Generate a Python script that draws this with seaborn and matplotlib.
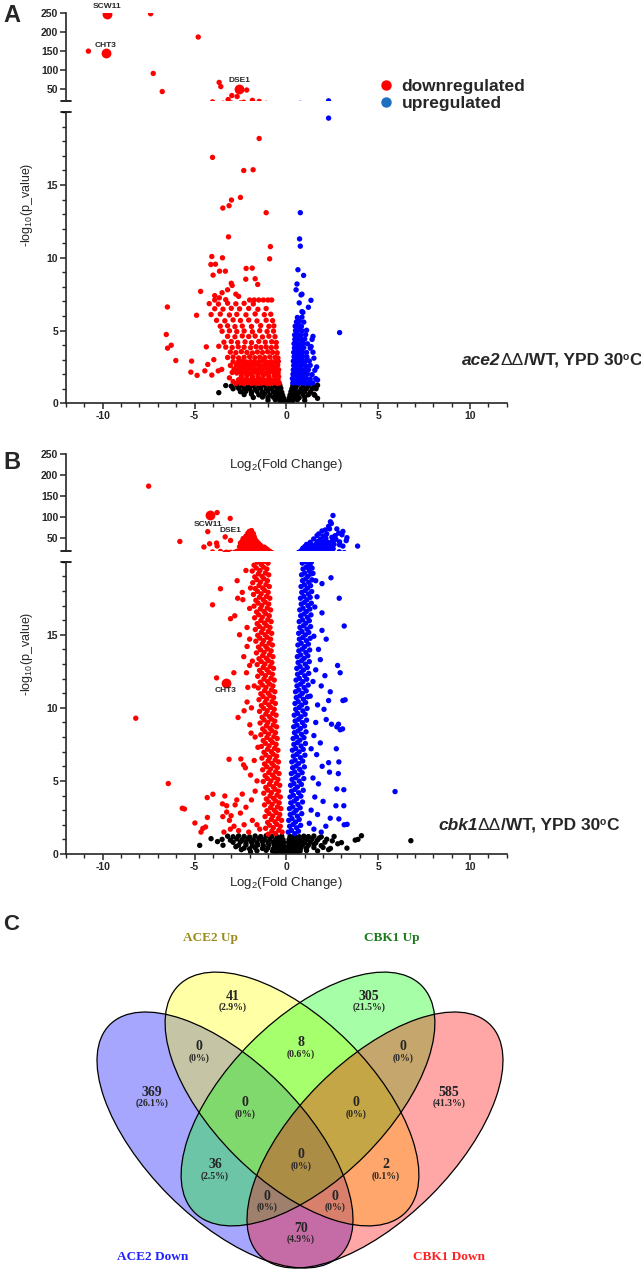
import numpy as np
import pandas as pd
import matplotlib
matplotlib.use("Agg")
import matplotlib.pyplot as plt
from matplotlib.patches import Ellipse
from matplotlib.lines import Line2D
from matplotlib.ticker import MultipleLocator
import seaborn as sns

# -----------------------------
# 1. Data
# -----------------------------
# Panel A : ace2 / WT   (log2 fold change, -log10 p)
A_down_top = [(-10.78, 150), (-7.39, 248), (-4.80, 187), (-7.25, 91.5), (-6.76, 44), (-3.66, 68),
              (-3.57, 57), (-2.16, 48), (-2.97, 33.5), (-2.68, 31), (-3.17, 23), (-1.85, 21)]
A_down_sparse = [(-1.48, 18.2), (-4.02, 16.9), (-2.32, 16.0), (-1.81, 16.05), (-2.5, 14.15), (-2.99, 13.97),
                 (-3.12, 13.58), (-3.46, 13.42), (-1.10, 13.1), (-3.15, 11.44), (-0.87, 10.77), (-0.91, 9.93),
                 (-4.06, 10.09), (-3.48, 10.0), (-4.11, 9.54), (-3.86, 9.56), (-3.99, 8.81), (-3.64, 9.08),
                 (-3.32, 9.08), (-2.19, 9.27), (-1.86, 9.29), (-2.21, 8.53), (-1.70, 8.56), (-1.56, 8.17),
                 (-4.67, 7.69), (-4.89, 6.05), (-6.48, 6.62), (-6.54, 4.73), (-6.47, 3.79), (-6.27, 3.99),
                 (-6.02, 2.94), (-5.16, 2.9), (-5.20, 2.14), (-4.86, 1.92), (-4.36, 3.88), (-4.28, 2.67),
                 (-4.44, 2.23), (-3.95, 3.0), (-4.06, 1.94), (-3.68, 3.92), (-3.71, 2.23), (-3.52, 2.33)]
A_down_core = [
    (-2.75, 1.36), (-2.5, 1.40), (-2.3, 1.35), (-2.1, 1.42), (-1.9, 1.37), (-1.7, 1.39), (-1.5, 1.36),
    (-1.3, 1.41), (-1.1, 1.38), (-0.9, 1.35), (-0.7, 1.40), (-0.5, 1.37), (-0.38, 1.39),
    (-2.6, 1.62), (-2.4, 1.60), (-2.2, 1.65), (-2.0, 1.58), (-1.8, 1.63), (-1.6, 1.61), (-1.4, 1.66),
    (-1.2, 1.59), (-1.0, 1.64), (-0.8, 1.60), (-0.6, 1.62), (-0.45, 1.58),
    (-2.45, 1.86), (-2.15, 1.90), (-1.85, 1.84), (-1.55, 1.88), (-1.25, 1.92), (-0.95, 1.85),
    (-0.65, 1.89), (-0.42, 1.83), (-2.9, 1.50), (-3.1, 1.75),
    (-2.95, 2.12), (-2.7, 2.08), (-2.48, 2.14), (-2.25, 2.1), (-2.02, 2.06), (-1.8, 2.13), (-1.58, 2.09),
    (-1.35, 2.11), (-1.12, 2.07), (-0.9, 2.14), (-0.68, 2.1), (-0.45, 2.08),
    (-2.85, 2.36), (-2.6, 2.33), (-2.38, 2.38), (-2.15, 2.34), (-1.92, 2.37), (-1.7, 2.32), (-1.48, 2.36),
    (-1.25, 2.39), (-1.02, 2.33), (-0.8, 2.35), (-0.58, 2.37), (-0.42, 2.31),
    (-3.05, 2.6), (-2.72, 2.62), (-2.5, 2.58), (-2.28, 2.63), (-2.05, 2.59), (-1.82, 2.61), (-1.6, 2.64),
    (-1.38, 2.57), (-1.15, 2.6), (-0.92, 2.63), (-0.7, 2.58), (-0.47, 2.62),
    (-2.9, 2.86), (-2.62, 2.83), (-2.4, 2.88), (-2.18, 2.84), (-1.95, 2.87), (-1.72, 2.82), (-1.5, 2.85),
    (-1.28, 2.89), (-1.05, 2.83), (-0.82, 2.86), (-0.6, 2.84), (-0.44, 2.88),
    (-3.2, 3.15), (-2.9, 3.18), (-2.6, 3.12), (-2.3, 3.16), (-2.0, 3.2), (-1.72, 3.13), (-1.45, 3.17),
    (-1.18, 3.14), (-0.9, 3.19), (-0.62, 3.15), (-0.46, 3.12),
    (-3.05, 3.52), (-2.75, 3.48), (-2.45, 3.55), (-2.15, 3.5), (-1.85, 3.46), (-1.58, 3.53), (-1.3, 3.49),
    (-1.02, 3.54), (-0.75, 3.5), (-0.5, 3.47),
    (-3.3, 3.86), (-2.95, 3.83), (-2.62, 3.88), (-2.3, 3.85), (-1.95, 3.82), (-1.65, 3.89), (-1.38, 3.84),
    (-1.1, 3.87), (-0.82, 3.83), (-0.55, 3.86),
    (-3.4, 4.2), (-3.0, 4.24), (-2.65, 4.18), (-2.25, 4.22), (-1.9, 4.17), (-1.5, 4.25), (-1.15, 4.2),
    (-0.8, 4.23), (-0.55, 4.18),
    (-3.2, 4.6), (-2.8, 4.57), (-2.4, 4.63), (-2.05, 4.59), (-1.7, 4.62), (-1.3, 4.56), (-0.95, 4.61),
    (-0.62, 4.58),
    (-3.5, 4.95), (-3.1, 4.98), (-2.7, 4.93), (-2.3, 4.97), (-1.85, 4.92), (-1.45, 4.99), (-1.05, 4.94),
    (-0.7, 4.96),
    (-3.6, 5.3), (-3.2, 5.33), (-2.8, 5.27), (-2.4, 5.31), (-1.9, 5.28), (-1.4, 5.34), (-0.95, 5.29),
    (-0.68, 5.32),
    (-3.8, 5.7), (-3.35, 5.67), (-2.9, 5.73), (-2.5, 5.69), (-2.05, 5.72), (-1.6, 5.66), (-1.1, 5.71),
    (-0.75, 5.68),
    (-4.1, 6.1), (-3.6, 6.13), (-3.1, 6.07), (-2.7, 6.11), (-2.2, 6.08), (-1.7, 6.14), (-1.2, 6.09),
    (-0.85, 6.12),
    (-3.9, 6.5), (-3.45, 6.47), (-3.0, 6.53), (-2.55, 6.49), (-2.05, 6.52), (-1.55, 6.46), (-1.1, 6.51),
    (-4.2, 6.85), (-3.7, 6.82), (-3.2, 6.88), (-2.75, 6.84), (-2.3, 6.87), (-1.8, 6.83),
    (-3.9, 7.1), (-3.3, 7.12), (-2.0, 7.1), (-1.75, 7.1), (-1.5, 7.1), (-1.25, 7.1), (-1.0, 7.1), (-0.8, 7.1),
    (-3.9, 7.4), (-3.5, 7.6), (-3.2, 7.8), (-2.95, 8.1), (-2.75, 7.5), (-3.65, 7.25), (-3.0, 8.25), (-2.6, 7.35)]
A_up_core = [
    (0.35, 1.4), (0.5, 1.43), (0.65, 1.38), (0.8, 1.42), (0.95, 1.39), (1.1, 1.41), (1.25, 1.37), (1.45, 1.4),
    (0.33, 1.7), (0.48, 1.73), (0.62, 1.68), (0.78, 1.72), (0.92, 1.69), (1.08, 1.71), (1.3, 1.67), (1.6, 1.7),
    (0.36, 2.0), (0.5, 2.03), (0.66, 1.98), (0.8, 2.02), (0.96, 1.99), (1.15, 2.01), (1.4, 1.97),
    (0.38, 2.3), (0.52, 2.33), (0.68, 2.28), (0.84, 2.32), (1.0, 2.29), (1.2, 2.31), (1.55, 2.27),
    (0.4, 2.6), (0.55, 2.63), (0.7, 2.58), (0.86, 2.62), (1.05, 2.59), (1.3, 2.61),
    (0.38, 2.9), (0.53, 2.93), (0.68, 2.88), (0.84, 2.92), (1.02, 2.89), (1.25, 2.91),
    (0.42, 3.2), (0.57, 3.23), (0.72, 3.18), (0.9, 3.22), (1.12, 3.19),
    (0.4, 3.5), (0.55, 3.53), (0.7, 3.48), (0.88, 3.52), (1.1, 3.49), (1.45, 3.51),
    (0.44, 3.8), (0.6, 3.83), (0.76, 3.78), (0.95, 3.82), (1.3, 3.79),
    (0.42, 4.1), (0.58, 4.13), (0.74, 4.08), (0.92, 4.12), (1.15, 4.09),
    (0.46, 4.4), (0.62, 4.43), (0.8, 4.38), (1.0, 4.42), (1.4, 4.39),
    (0.45, 4.7), (0.62, 4.73), (0.8, 4.68), (1.05, 4.72),
    (0.5, 5.0), (0.66, 5.03), (0.85, 4.98), (1.1, 5.02),
    (0.48, 5.3), (0.65, 5.33), (0.82, 5.28),
    (0.55, 5.6), (0.72, 5.63), (0.95, 5.58),
    (0.6, 5.9), (0.85, 5.92)]
A_up_sparse = [(0.76, 13.1), (0.72, 11.3), (0.76, 10.8), (0.63, 9.18), (0.94, 8.79), (0.58, 8.2), (0.53, 7.8),
               (0.85, 7.5), (0.8, 7.45), (1.34, 7.08), (0.85, 6.3), (0.9, 6.25), (2.3, 19.6), (2.9, 4.86),
               (1.45, 4.6), (1.35, 3.9), (1.5, 3.1), (1.65, 2.5), (1.7, 1.6), (1.2, 6.6), (0.7, 6.9)]
A_ns = [
    (-3.3, 1.22), (-3.0, 1.18), (-2.7, 1.24), (-2.4, 1.2), (-2.1, 1.17), (-1.8, 1.23), (-1.5, 1.19), (-1.2, 1.25),
    (-0.9, 1.21), (-0.6, 1.18), (-0.35, 1.22), (0.35, 1.2), (0.6, 1.24), (0.9, 1.18), (1.2, 1.22), (1.5, 1.19),
    (1.7, 1.24),
    (-2.9, 1.0), (-2.6, 1.03), (-2.3, 0.98), (-2.0, 1.02), (-1.7, 0.97), (-1.4, 1.04), (-1.1, 0.99), (-0.8, 1.01),
    (-0.5, 0.96), (-0.3, 1.03), (0.3, 1.0), (0.5, 1.04), (0.8, 0.97), (1.1, 1.02), (1.4, 0.99),
    (-2.5, 0.8), (-2.2, 0.83), (-1.9, 0.78), (-1.6, 0.82), (-1.3, 0.77), (-1.0, 0.84), (-0.7, 0.79), (-0.45, 0.81),
    (-0.25, 0.76), (0.25, 0.8), (0.45, 0.83), (0.7, 0.78), (1.0, 0.82), (1.3, 0.77),
    (-2.3, 0.6), (-1.9, 0.63), (-1.5, 0.58), (-1.2, 0.62), (-0.9, 0.57), (-0.6, 0.64), (-0.38, 0.59), (-0.2, 0.55),
    (0.2, 0.57), (0.38, 0.61), (0.6, 0.58), (0.9, 0.63), (1.2, 0.59), (1.5, 0.62),
    (-1.8, 0.4), (-1.3, 0.43), (-1.0, 0.38), (-0.7, 0.42), (-0.45, 0.37), (-0.28, 0.41), (-0.15, 0.35),
    (0.15, 0.36), (0.28, 0.4), (0.45, 0.43), (0.7, 0.38), (1.0, 0.42), (1.7, 0.34),
    (-1.0, 0.2), (-0.6, 0.23), (-0.35, 0.19), (-0.2, 0.21), (-0.1, 0.15), (0.1, 0.16), (0.2, 0.22), (0.35, 0.2),
    (0.6, 0.24), (1.0, 0.19),
    (-0.3, 0.06), (-0.05, 0.04), (0.05, 0.05), (0.3, 0.07),
    (-3.68, 0.73), (1.62, 1.0), (1.55, 0.55)]
A_genes = ["SCW11", "CHT3", "DSE1"]
A_gene_pts = [(-9.78, 248), (-9.82, 146), (-2.57, 50)]

# Panel B : cbk1 / WT
B_down_top = [(-7.5, 174), (-5.8, 42), (-3.77, 111), (-3.06, 97), (-4.28, 65.5), (-4.18, 36.6),
              (-4.49, 28.9), (-3.80, 38.3), (-3.77, 31.2), (-3.04, 44.4), (-3.33, 53)]
B_down_clump = [
    (-2.5, 22), (-2.35, 23), (-2.2, 21.5), (-2.05, 22.5), (-1.9, 21.8), (-1.75, 22.6), (-1.6, 21.4),
    (-1.45, 22.2), (-1.3, 21.7), (-1.15, 22.4), (-1.0, 21.6),
    (-2.45, 25.5), (-2.3, 26.4), (-2.15, 25.2), (-2.0, 26.1), (-1.85, 25.7), (-1.7, 26.5), (-1.55, 25.4),
    (-1.4, 26.2), (-1.25, 25.6), (-1.1, 25.0),
    (-2.55, 29.5), (-2.4, 30.4), (-2.25, 29.2), (-2.1, 30.1), (-1.95, 29.7), (-1.8, 30.6), (-1.65, 29.4),
    (-1.5, 30.2), (-1.35, 29.0), (-1.2, 28.4),
    (-2.45, 34), (-2.3, 34.8), (-2.15, 33.6), (-2.0, 34.5), (-1.85, 33.9), (-1.7, 34.7), (-1.55, 33.4),
    (-1.4, 32.6),
    (-2.5, 38.5), (-2.3, 37.8), (-2.1, 38.9), (-1.95, 38.1), (-1.8, 38.7), (-1.65, 37.5), (-1.5, 36.8),
    (-2.4, 43), (-2.2, 42.4), (-2.05, 43.6), (-1.9, 42.8), (-1.75, 43.3), (-1.6, 41.5),
    (-2.35, 49), (-2.15, 48.3), (-2.0, 49.6), (-1.85, 48.8), (-1.7, 47.2),
    (-2.2, 55), (-2.05, 54.2), (-1.9, 55.8), (-1.75, 53.5),
    (-2.1, 61.5), (-1.95, 62.5), (-1.8, 60.8), (-1.9, 68), (-2.02, 66)]
B_down_band = [
    (-0.23, 1.5), (-0.41, 1.63), (-0.59, 1.4), (-0.79, 1.57), (-0.99, 1.36),
    (-0.33, 1.9), (-0.52, 2.03), (-0.71, 1.8), (-0.91, 1.97), (-1.13, 1.76),
    (-0.26, 2.3), (-0.44, 2.43), (-0.62, 2.2), (-0.82, 2.37), (-1.02, 2.16),
    (-0.36, 2.7), (-0.55, 2.83), (-0.74, 2.6), (-0.94, 2.77), (-1.16, 2.56),
    (-0.30, 3.1), (-0.48, 3.23), (-0.66, 3.0), (-0.86, 3.17), (-1.06, 2.96),
    (-0.39, 3.5), (-0.58, 3.63), (-0.77, 3.4), (-0.97, 3.57), (-1.19, 3.36),
    (-0.33, 3.9), (-0.51, 4.03), (-0.69, 3.8), (-0.89, 3.97), (-1.09, 3.76),
    (-0.43, 4.3), (-0.62, 4.43), (-0.81, 4.2), (-1.01, 4.37), (-1.23, 4.16),
    (-0.36, 4.7), (-0.54, 4.83), (-0.72, 4.6), (-0.92, 4.77), (-1.12, 4.56),
    (-0.46, 5.1), (-0.65, 5.23), (-0.84, 5.0), (-1.04, 5.17), (-1.26, 4.96),
    (-0.40, 5.5), (-0.58, 5.63), (-0.76, 5.4), (-0.96, 5.57), (-1.16, 5.36),
    (-0.49, 5.9), (-0.68, 6.03), (-0.87, 5.8), (-1.07, 5.97), (-1.29, 5.76),
    (-0.43, 6.3), (-0.61, 6.43), (-0.79, 6.2), (-0.99, 6.37), (-1.19, 6.16),
    (-0.53, 6.7), (-0.72, 6.83), (-0.91, 6.6), (-1.11, 6.77), (-1.33, 6.56),
    (-0.46, 7.1), (-0.64, 7.23), (-0.82, 7.0), (-1.02, 7.17), (-1.22, 6.96),
    (-0.56, 7.5), (-0.75, 7.63), (-0.94, 7.4), (-1.14, 7.57), (-1.36, 7.36),
    (-0.50, 7.9), (-0.68, 8.03), (-0.86, 7.8), (-1.06, 7.97), (-1.26, 7.76),
    (-0.59, 8.3), (-0.78, 8.43), (-0.97, 8.2), (-1.17, 8.37), (-1.39, 8.16),
    (-0.53, 8.7), (-0.71, 8.83), (-0.89, 8.6), (-1.09, 8.77), (-1.29, 8.56),
    (-0.63, 9.1), (-0.82, 9.23), (-1.01, 9.0), (-1.21, 9.17), (-1.43, 8.96),
    (-0.56, 9.5), (-0.74, 9.63), (-0.92, 9.4), (-1.12, 9.57), (-1.32, 9.36),
    (-0.66, 9.9), (-0.85, 10.03), (-1.04, 9.8), (-1.24, 9.97), (-1.46, 9.76),
    (-0.60, 10.3), (-0.78, 10.43), (-0.96, 10.2), (-1.16, 10.37), (-1.36, 10.16),
    (-0.69, 10.7), (-0.88, 10.83), (-1.07, 10.6), (-1.27, 10.77), (-1.49, 10.56),
    (-0.63, 11.1), (-0.81, 11.23), (-0.99, 11.0), (-1.19, 11.17), (-1.39, 10.96),
    (-0.73, 11.5), (-0.92, 11.63), (-1.11, 11.4), (-1.31, 11.57), (-1.53, 11.36),
    (-0.66, 11.9), (-0.84, 12.03), (-1.02, 11.8), (-1.22, 11.97), (-1.42, 11.76),
    (-0.76, 12.3), (-0.95, 12.43), (-1.14, 12.2), (-1.34, 12.37), (-1.56, 12.16),
    (-0.70, 12.7), (-0.88, 12.83), (-1.06, 12.6), (-1.26, 12.77), (-1.46, 12.56),
    (-0.79, 13.1), (-0.98, 13.23), (-1.17, 13.0), (-1.37, 13.17), (-1.59, 12.96),
    (-0.73, 13.5), (-0.91, 13.63), (-1.09, 13.4), (-1.29, 13.57), (-1.49, 13.36),
    (-0.83, 13.9), (-1.02, 14.03), (-1.21, 13.8), (-1.41, 13.97), (-1.63, 13.76),
    (-0.76, 14.3), (-0.94, 14.43), (-1.12, 14.2), (-1.32, 14.37), (-1.52, 14.16),
    (-0.86, 14.7), (-1.05, 14.83), (-1.24, 14.6), (-1.44, 14.77), (-1.66, 14.56),
    (-0.80, 15.1), (-0.98, 15.23), (-1.16, 15.0), (-1.36, 15.17), (-1.56, 14.96),
    (-0.89, 15.5), (-1.08, 15.63), (-1.27, 15.4), (-1.47, 15.57), (-1.69, 15.36),
    (-0.83, 15.9), (-1.01, 16.03), (-1.19, 15.8), (-1.39, 15.97), (-1.59, 15.76),
    (-0.93, 16.3), (-1.12, 16.43), (-1.31, 16.2), (-1.51, 16.37), (-1.73, 16.16),
    (-0.86, 16.7), (-1.04, 16.83), (-1.22, 16.6), (-1.42, 16.77), (-1.62, 16.56),
    (-0.96, 17.1), (-1.15, 17.23), (-1.34, 17.0), (-1.54, 17.17), (-1.76, 16.96),
    (-0.90, 17.5), (-1.08, 17.63), (-1.26, 17.4), (-1.46, 17.57), (-1.66, 17.36),
    (-0.99, 17.9), (-1.18, 18.03), (-1.37, 17.8), (-1.57, 17.97), (-1.79, 17.76),
    (-0.93, 18.3), (-1.11, 18.43), (-1.29, 18.2), (-1.49, 18.37), (-1.69, 18.16),
    (-1.03, 18.7), (-1.22, 18.83), (-1.41, 18.6), (-1.61, 18.77), (-1.83, 18.56),
    (-0.96, 19.1), (-1.14, 19.23), (-1.32, 19.0), (-1.52, 19.17), (-1.72, 18.96),
    (-1.06, 19.5), (-1.25, 19.63), (-1.44, 19.4), (-1.64, 19.57), (-1.86, 19.36),
    (-1.00, 19.9), (-1.18, 20.03), (-1.36, 19.8), (-1.56, 19.97), (-1.76, 19.76)]
B_down_sparse = [
    (-8.2, 9.29), (-6.43, 4.82), (-5.67, 3.13), (-5.55, 3.08), (-4.98, 2.12), (-4.31, 3.86), (-4.0, 4.09),
    (-3.35, 3.97), (-3.25, 3.3), (-3.25, 2.87), (-3.12, 6.48), (-2.63, 9.34), (-2.14, 10.4), (-2.48, 6.5),
    (-2.33, 6.1), (-2.23, 5.9), (-1.99, 8.84), (-1.92, 8.27), (-4.65, 1.5), (-4.55, 1.75), (-4.4, 1.85),
    (-4.3, 2.5), (-2.68, 18.7), (-3.59, 18.15), (-4.02, 17.05), (-2.65, 17.5), (-2.37, 17.4), (-3.04, 16.1),
    (-2.81, 16.3), (-2.14, 15.5), (-2.0, 14.7), (-2.14, 14.2), (-2.32, 13.5), (-2.86, 12.4), (-3.80, 12.05),
    (-2.17, 12.4), (-2.1, 11.4), (-3.48, 3.43), (-3.46, 2.56), (-3.01, 2.62), (-2.79, 3.36),
    (-2.6, 1.6), (-2.3, 2.0), (-2.05, 1.5), (-1.85, 2.3), (-2.5, 2.8), (-2.2, 3.2), (-1.9, 3.7), (-1.7, 4.3),
    (-2.4, 4.1), (-1.6, 5.0), (-1.95, 5.4), (-1.75, 6.4), (-1.55, 7.3), (-1.7, 8.0), (-1.9, 10.0),
    (-1.75, 11.5), (-1.85, 13.2), (-2.0, 16.8), (-2.2, 19.4), (-1.95, 18.2), (-2.4, 17.9), (-2.55, 15.0),
    (-2.0, 12.9), (-2.3, 9.8), (-1.6, 2.0), (-1.45, 1.7), (-2.85, 1.9), (-3.1, 2.3), (-2.7, 3.7),
    (-3.4, 1.5), (-3.05, 1.7)]
B_up_top = [
    (0.85, 22), (1.0, 22.8), (1.15, 21.6), (1.3, 22.4), (1.45, 21.9), (1.6, 22.7), (1.75, 21.5), (1.9, 22.3),
    (2.05, 21.8), (2.2, 22.6), (2.35, 21.4),
    (0.9, 26), (1.05, 25.3), (1.2, 26.5), (1.35, 25.7), (1.5, 26.2), (1.65, 25.4), (1.8, 26.6), (1.95, 25.8),
    (2.1, 26.3), (2.3, 25.5), (2.55, 24.8),
    (1.0, 29.8), (1.2, 30.5), (1.4, 29.6), (1.6, 30.3), (1.8, 29.4), (2.0, 30.7), (2.2, 29.9), (2.45, 30.4),
    (1.1, 35), (1.35, 34.3), (1.6, 35.5), (1.85, 34.6), (2.1, 35.8), (2.35, 34.4), (2.6, 35.2),
    (1.49, 48), (1.67, 56), (1.3, 40), (1.7, 41.5), (2.0, 42), (2.25, 40.5), (2.5, 43), (1.85, 47), (2.15, 50),
    (2.54, 104), (2.12, 69.5), (1.94, 67), (2.30, 78), (2.35, 72), (2.75, 72), (3.08, 66), (2.66, 56),
    (2.48, 52), (3.03, 58), (3.30, 51), (3.26, 44), (2.90, 34), (3.08, 31), (3.88, 31), (2.4, 89),
    (2.45, 85), (1.76, 60), (2.85, 62), (2.2, 60), (2.0, 55), (2.7, 47), (2.9, 41)]
B_up_band = [
    (0.10, 1.5), (0.28, 1.62), (0.46, 1.39), (0.66, 1.56),
    (0.18, 1.9), (0.37, 2.02), (0.56, 1.79), (0.78, 1.96),
    (0.13, 2.3), (0.31, 2.42), (0.50, 2.19), (0.70, 2.36),
    (0.21, 2.7), (0.40, 2.82), (0.60, 2.59), (0.84, 2.76),
    (0.17, 3.1), (0.35, 3.22), (0.54, 2.99), (0.75, 3.16),
    (0.24, 3.5), (0.43, 3.62), (0.63, 3.39), (0.88, 3.56),
    (0.20, 3.9), (0.38, 4.02), (0.57, 3.79), (0.79, 3.96),
    (0.28, 4.3), (0.47, 4.42), (0.67, 4.19), (0.92, 4.36),
    (0.23, 4.7), (0.41, 4.82), (0.60, 4.59), (0.82, 4.76),
    (0.31, 5.1), (0.50, 5.22), (0.70, 4.99), (0.95, 5.16),
    (0.27, 5.5), (0.45, 5.62), (0.64, 5.39), (0.86, 5.56),
    (0.34, 5.9), (0.53, 6.02), (0.73, 5.79), (0.98, 5.96),
    (0.30, 6.3), (0.48, 6.42), (0.67, 6.19), (0.89, 6.36),
    (0.38, 6.7), (0.57, 6.82), (0.77, 6.59), (1.01, 6.76),
    (0.33, 7.1), (0.51, 7.22), (0.70, 6.99), (0.92, 7.16),
    (0.41, 7.5), (0.60, 7.62), (0.80, 7.39), (1.04, 7.56),
    (0.37, 7.9), (0.55, 8.02), (0.74, 7.79), (0.96, 7.96),
    (0.44, 8.3), (0.63, 8.42), (0.83, 8.19), (1.07, 8.36),
    (0.40, 8.7), (0.58, 8.82), (0.77, 8.59), (0.99, 8.76),
    (0.48, 9.1), (0.67, 9.22), (0.87, 8.99), (1.10, 9.16),
    (0.43, 9.5), (0.61, 9.62), (0.80, 9.39), (1.02, 9.56),
    (0.51, 9.9), (0.70, 10.02), (0.90, 9.79), (1.13, 9.96),
    (0.47, 10.3), (0.65, 10.42), (0.84, 10.19), (1.05, 10.36),
    (0.54, 10.7), (0.73, 10.82), (0.93, 10.59), (1.16, 10.76),
    (0.50, 11.1), (0.68, 11.22), (0.87, 10.99), (1.08, 11.16),
    (0.58, 11.5), (0.77, 11.62), (0.97, 11.39), (1.19, 11.56),
    (0.53, 11.9), (0.71, 12.02), (0.90, 11.79), (1.11, 11.96),
    (0.61, 12.3), (0.80, 12.42), (1.00, 12.19), (1.22, 12.36),
    (0.57, 12.7), (0.75, 12.82), (0.94, 12.59), (1.14, 12.76),
    (0.64, 13.1), (0.83, 13.22), (1.03, 12.99), (1.25, 13.16),
    (0.60, 13.5), (0.78, 13.62), (0.97, 13.39), (1.17, 13.56),
    (0.68, 13.9), (0.87, 14.02), (1.06, 13.79), (1.27, 13.96),
    (0.63, 14.3), (0.81, 14.42), (1.00, 14.19), (1.20, 14.36),
    (0.71, 14.7), (0.90, 14.82), (1.09, 14.59), (1.30, 14.76),
    (0.67, 15.1), (0.85, 15.22), (1.03, 14.99), (1.22, 15.16),
    (0.74, 15.5), (0.93, 15.62), (1.12, 15.39), (1.32, 15.56),
    (0.70, 15.9), (0.88, 16.02), (1.06, 15.79), (1.25, 15.96),
    (0.78, 16.3), (0.96, 16.42), (1.15, 16.19), (1.34, 16.36),
    (0.73, 16.7), (0.91, 16.82), (1.09, 16.59), (1.28, 16.76),
    (0.81, 17.1), (0.99, 17.22), (1.18, 16.99), (1.36, 17.16),
    (0.77, 17.5), (0.95, 17.62), (1.12, 17.39), (1.30, 17.56),
    (0.84, 17.9), (1.02, 18.02), (1.20, 17.79), (1.38, 17.96),
    (0.80, 18.3), (0.98, 18.42), (1.15, 18.19), (1.32, 18.36),
    (0.88, 18.7), (1.05, 18.82), (1.22, 18.59), (1.40, 18.76),
    (0.83, 19.1), (1.00, 19.22), (1.17, 18.99), (1.34, 19.16),
    (0.91, 19.5), (1.08, 19.62), (1.25, 19.39), (1.40, 19.56),
    (0.87, 19.9), (1.03, 20.02), (1.20, 19.79), (1.36, 19.96)]
B_up_sparse = [
    (2.43, 18.9), (1.94, 18.5), (2.88, 17.5), (3.15, 15.6), (1.94, 15.3), (2.17, 14.7), (2.79, 12.9),
    (2.93, 12.4), (2.39, 11.1), (3.08, 10.5), (2.30, 10.5), (2.75, 8.7), (2.93, 8.5), (2.17, 9.2),
    (2.72, 7.2), (2.30, 6.25), (2.35, 5.6), (2.75, 4.45), (5.92, 4.27), (2.70, 3.3), (3.15, 2.0),
    (2.39, 2.45), (3.2, 10.55), (3.06, 8.56), (2.84, 8.88), (2.46, 8.88), (2.86, 6.3), (2.83, 5.5),
    (3.13, 4.4), (3.13, 3.3), (2.86, 2.4), (3.31, 2.03),
    (1.30, 19.7), (1.67, 17.6), (1.55, 16.9), (1.94, 16.5), (1.5, 14.9), (1.75, 14.0), (1.85, 13.3),
    (1.6, 12.6), (1.45, 11.8), (1.9, 11.5), (1.7, 10.2), (2.05, 9.9), (1.6, 9.0), (1.5, 8.1), (1.85, 7.6),
    (1.65, 6.8), (1.95, 6.0), (1.45, 5.2), (1.75, 4.8), (1.55, 3.9), (2.0, 3.6), (1.35, 3.0), (1.7, 2.7),
    (1.25, 2.1), (1.5, 1.7), (2.15, 1.9), (1.9, 1.5), (1.6, 18.7), (1.45, 19.2), (2.1, 12.2), (1.35, 7.2),
    (1.3, 10.8)]
B_ns = [
    (-3.2, 1.22), (-2.9, 1.18), (-2.6, 1.24), (-2.3, 1.2), (-2.0, 1.17), (-1.7, 1.23), (-1.4, 1.19), (-1.1, 1.25),
    (-0.8, 1.21), (-0.5, 1.18), (-0.25, 1.22), (0.2, 1.2), (0.45, 1.24), (0.7, 1.18), (0.95, 1.22), (1.2, 1.19),
    (1.5, 1.23), (1.9, 1.17), (2.6, 1.2),
    (-3.5, 1.0), (-2.7, 1.03), (-2.4, 0.98), (-2.1, 1.02), (-1.8, 0.97), (-1.5, 1.04), (-1.2, 0.99), (-0.9, 1.01),
    (-0.6, 0.96), (-0.35, 1.03), (-0.18, 0.98), (0.15, 1.0), (0.35, 1.04), (0.6, 0.97), (0.85, 1.02), (1.1, 0.99),
    (1.4, 1.03), (1.7, 0.96), (2.2, 1.01),
    (-2.9, 0.8), (-2.5, 0.83), (-2.2, 0.78), (-1.9, 0.82), (-1.6, 0.77), (-1.3, 0.84), (-1.0, 0.79), (-0.7, 0.81),
    (-0.45, 0.76), (-0.27, 0.83), (-0.14, 0.78), (0.12, 0.8), (0.28, 0.84), (0.5, 0.77), (0.75, 0.82), (1.0, 0.79),
    (1.3, 0.83), (1.6, 0.76), (2.1, 0.81), (3.0, 0.78),
    (-2.6, 0.6), (-2.2, 0.63), (-1.85, 0.58), (-1.55, 0.62), (-1.25, 0.57), (-0.95, 0.64), (-0.65, 0.59),
    (-0.4, 0.61), (-0.2, 0.56), (-0.1, 0.5), (0.1, 0.52), (0.22, 0.58), (0.42, 0.63), (0.65, 0.57), (0.9, 0.62),
    (1.2, 0.59), (1.5, 0.64), (1.9, 0.57),
    (-2.3, 0.4), (-1.7, 0.43), (-1.3, 0.38), (-1.0, 0.42), (-0.7, 0.37), (-0.45, 0.44), (-0.28, 0.39),
    (-0.13, 0.36), (-0.07, 0.3), (0.07, 0.32), (0.16, 0.38), (0.32, 0.43), (0.55, 0.37), (0.8, 0.42),
    (1.1, 0.39), (1.5, 0.44), (2.4, 0.38),
    (-1.6, 0.22), (-1.1, 0.25), (-0.75, 0.2), (-0.45, 0.24), (-0.25, 0.19), (-0.12, 0.17), (-0.05, 0.12),
    (0.05, 0.13), (0.12, 0.18), (0.25, 0.21), (0.45, 0.25), (0.75, 0.2), (1.1, 0.24), (1.7, 0.21),
    (-0.6, 0.07), (-0.3, 0.09), (-0.12, 0.06), (-0.03, 0.04), (0.03, 0.05), (0.12, 0.08), (0.3, 0.06), (0.6, 0.09),
    (-4.72, 0.59), (-4.1, 1.05), (-3.75, 0.85), (-3.45, 0.6), (4.09, 1.25), (3.9, 1.0), (3.75, 0.95),
    (6.78, 0.91), (3.3, 0.4), (2.8, 0.7), (2.3, 0.3), (-2.75, 0.5), (-2.45, 0.3), (-1.95, 0.15), (2.0, 0.45),
    (2.5, 0.9), (1.8, 1.1), (-3.05, 0.95), (-2.0, 0.35)]
B_genes = ["SCW11", "DSE1", "CHT3"]
B_gene_pts = [(-4.17, 105), (-2.3, 38), (-3.26, 11.73)]

# Panel C : Venn counts
venn_sets = ["ACE2 Down", "ACE2 Up", "CBK1 Up", "CBK1 Down"]
region_counts = [41, 305, 0, 8, 0, 369, 0, 0, 585, 0, 36, 2, 0, 0, 70]

# -----------------------------
# 2. Layout / style
# -----------------------------
W, H = 641, 1270
sns.set_style("ticks")
plt.rcParams["font.family"] = ["Liberation Sans", "DejaVu Sans"]
plt.rcParams["axes.unicode_minus"] = False
plt.rcParams["mathtext.fontset"] = "custom"
plt.rcParams["mathtext.rm"] = "Liberation Sans"
plt.rcParams["mathtext.it"] = "Liberation Sans:italic"
plt.rcParams["mathtext.bf"] = "Liberation Sans:bold"
plt.rcParams["mathtext.default"] = "regular"

palette = {"ns": "#000000", "down": "#ff0000", "up": "#0000ff"}

fig = plt.figure(figsize=(W / 100, H / 100), dpi=100)


def px_axes(left, top, right, bottom):
    return fig.add_axes([left / W, 1 - bottom / H, (right - left) / W, (bottom - top) / H])


def to_df(ns, down, up):
    frames = []
    for name, pts in (("ns", ns), ("down", down), ("up", up)):
        arr = np.array(pts, dtype=float)
        frames.append(pd.DataFrame({"log2fc": arr[:, 0], "nlogp": arr[:, 1], "group": name}))
    return pd.concat(frames, ignore_index=True)


def bold_ticks(ax):
    for lbl in ax.get_xticklabels() + ax.get_yticklabels():
        lbl.set_fontweight("bold")


def volcano(top_px, bot_px, df, genes, gene_pts, offsets):
    ax_t = px_axes(66, top_px[0], 506.7, top_px[1])
    ax_b = px_axes(66, bot_px[0], 506.7, bot_px[1])
    gdf = pd.DataFrame({"log2fc": [p[0] for p in gene_pts], "nlogp": [p[1] for p in gene_pts]})
    for ax in (ax_t, ax_b):
        sns.scatterplot(data=df, x="log2fc", y="nlogp", hue="group", palette=palette, s=15,
                        linewidth=0, legend=False, ax=ax)
        sns.scatterplot(data=gdf, x="log2fc", y="nlogp", color="#ff0000", s=50, linewidth=0,
                        legend=False, ax=ax)
        ax.set_xlim(-12, 12)
        ax.set_xlabel("")
        ax.set_ylabel("")
        ax.patch.set_alpha(0)
        sns.despine(ax=ax)
        for sp in ax.spines.values():
            sp.set_linewidth(1.2)
        ax.tick_params(which="major", length=4, width=1.1, labelsize=7.5, pad=1.5)
        ax.tick_params(which="minor", length=2.6, width=1.0)
    # upper (broken) part
    ax_t.set_ylim(20, 250)
    ax_t.set_yticks([50, 100, 150, 200, 250])
    ax_t.spines["bottom"].set_visible(False)
    ax_t.tick_params(axis="x", which="both", bottom=False, labelbottom=False)
    # lower part
    ax_b.set_ylim(0, 20)
    ax_b.set_yticks([0, 5, 10, 15])
    ax_b.yaxis.set_minor_locator(MultipleLocator(1))
    ax_b.set_xticks([-10, -5, 0, 5, 10])
    ax_b.xaxis.set_minor_locator(MultipleLocator(1))
    bold_ticks(ax_t)
    bold_ticks(ax_b)
    # break caps
    ax_t.plot([-0.011, 0.011], [0, 0], transform=ax_t.transAxes, color="black", lw=1.2, clip_on=False)
    ax_b.plot([-0.011, 0.011], [1, 1], transform=ax_b.transAxes, color="black", lw=1.2, clip_on=False)
    for name, (gx, gy), (dx, dy) in zip(genes, gene_pts, offsets):
        ax = ax_t if gy > 20 else ax_b
        ax.annotate(name, (gx, gy), xytext=(dx, dy), textcoords="offset points", ha="center",
                    va="center", fontsize=6, fontweight="bold", annotation_clip=False)
    return ax_t, ax_b


def rich_text(x_px, base_px, pieces, size):
    renderer = fig.canvas.get_renderer()
    x = x_px
    for txt, weight, style, scale, rise in pieces:
        t = fig.text(x / W, 1 - (base_px - rise) / H, txt, fontsize=size * scale, fontweight=weight,
                     fontstyle=style, va="baseline", ha="left")
        x += t.get_window_extent(renderer).width


# -----------------------------
# 3. Panels A and B
# -----------------------------
dfA = to_df(A_ns, A_down_top + A_down_sparse + A_down_core, A_up_core + A_up_sparse)
dfB = to_df(B_ns, B_down_top + B_down_clump + B_down_band + B_down_sparse, B_up_top + B_up_band + B_up_sparse)

volcano((13, 100.7), (112.3, 403.3), dfA, A_genes, A_gene_pts, [(0, 5.5), (0, 5.5), (0, 6)])
volcano((454.3, 550.7), (561.7, 854), dfB, B_genes, B_gene_pts, [(-1, -7), (-9.5, 9), (-1, -6)])

fig.text(12 / W, 1 - 15 / H, "A", fontsize=17, fontweight="bold", ha="center", va="center")
fig.text(12 / W, 1 - 462 / H, "B", fontsize=17, fontweight="bold", ha="center", va="center")
fig.text(11 / W, 1 - 925 / H, "C", fontsize=16, fontweight="bold", ha="center", va="center")

for yc in (205, 654):
    fig.text(27 / W, 1 - yc / H, "-log$_{10}$(p_value)", rotation=90, fontsize=9, ha="center", va="center")
for yc in (465, 883):
    fig.text(286 / W, 1 - yc / H, "Log$_{2}$(Fold Change)", fontsize=9.5, ha="center", va="center")

handles = [Line2D([], [], marker="o", ls="", color="#ff0000", markersize=6.5),
           Line2D([], [], marker="o", ls="", color="#1f6fc0", markersize=6.5)]
fig.legend(handles, ["downregulated", "upregulated"], loc="upper left", bbox_to_anchor=(379 / W, 1 - 79 / H),
           frameon=False, prop={"weight": "bold", "size": 12.5}, handlelength=0.8, handletextpad=0.5,
           labelspacing=0.1, borderpad=0, borderaxespad=0)

rich_text(462, 365, [("ace2", "bold", "italic", 1, 0), ("ΔΔ", "normal", "normal", 1, 0),
                     ("/WT, YPD 30", "bold", "normal", 1, 0), ("o", "bold", "normal", 0.6, 5),
                     ("C", "bold", "normal", 1, 0)], 12.5)
rich_text(438, 830, [("cbk1", "bold", "italic", 1, 0), ("ΔΔ", "normal", "normal", 1, 0),
                     ("/WT, YPD 30", "bold", "normal", 1, 0), ("o", "bold", "normal", 0.6, 5),
                     ("C", "bold", "normal", 1, 0)], 12.5)

# -----------------------------
# 4. Panel C : 4-set Venn
# -----------------------------
venn_shapes = [(225, 1140, 326, 157.5, 45), (292, 1099, 321, 160.6, 45),
               (308, 1099, 321, 160.6, -45), (375, 1140, 326, 157.5, -45)]
venn_fill = ["#0000ff", "#ffff00", "#00ff00", "#ff0000"]
venn_label_xy = [(153, 1257), (210, 938), (392, 938), (449, 1257)]
venn_label_col = ["#2020ff", "#9b8a1a", "#1a7a1a", "#ff2020"]
region_xy = [(232.5, 996), (369, 996), (199, 1047), (301, 1043), (403, 1047), (152, 1092), (245, 1103),
             (356, 1103), (448.6, 1092), (301, 1155), (215, 1165), (386, 1165), (267, 1196), (334.6, 1196),
             (301, 1228)]

ax_v = px_axes(0, 930, 641, 1270)
ax_v.set_xlim(0, 641)
ax_v.set_ylim(1270, 930)
ax_v.axis("off")
for (cx, cy, w, h, ang), col in zip(venn_shapes, venn_fill):
    ax_v.add_patch(Ellipse((cx, cy), w, h, angle=ang, facecolor=col, alpha=0.35, edgecolor="none"))
for cx, cy, w, h, ang in venn_shapes:
    ax_v.add_patch(Ellipse((cx, cy), w, h, angle=ang, fill=False, edgecolor="black", lw=0.9))

total = sum(region_counts)
for n, (x, y) in zip(region_counts, region_xy):
    pct = "0%" if n == 0 else f"{100 * n / total:.1f}%"
    ax_v.text(x, y, str(n), fontsize=10, fontweight="bold", family="Liberation Serif", ha="center", va="center")
    ax_v.text(x, y + 11, f"({pct})", fontsize=7, fontweight="bold", family="Liberation Serif",
              ha="center", va="center")
for name, (x, y), col in zip(venn_sets, venn_label_xy, venn_label_col):
    ax_v.text(x, y, name, fontsize=9.5, fontweight="bold", family="Liberation Serif", color=col,
              ha="center", va="center")

fig.savefig("out.png", dpi=100)
